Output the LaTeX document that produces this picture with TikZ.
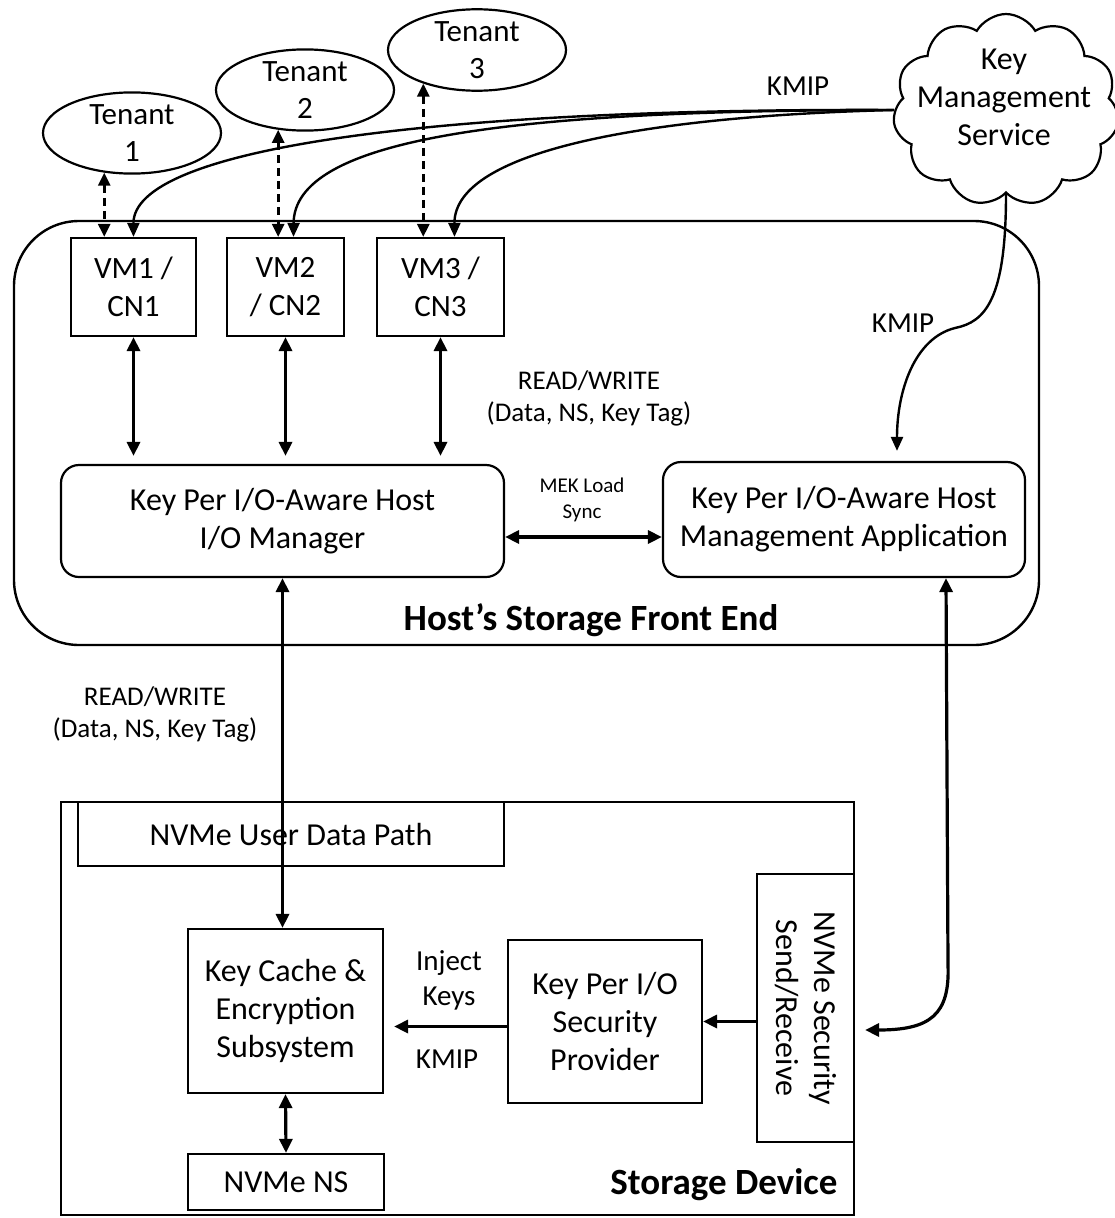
\documentclass[tikz,border=0pt]{standalone}
\usepackage{fontspec}
\setmainfont{Carlito}
\usetikzlibrary{arrows.meta,shapes.geometric,shapes.symbols}

\begin{document}
\begin{tikzpicture}[x=1pt,y=-1pt,
  maintxt/.style={font=\fontsize{32}{38}\selectfont, align=center},
  smalltxt/.style={font=\fontsize{31}{37.5}\selectfont, align=center},
  boxed/.style={draw, line width=2.2pt, inner sep=0pt, maintxt},
  tenant/.style={ellipse, draw, line width=2.2pt, inner sep=0pt, smalltxt,
    minimum width=178, minimum height=80},
  lbl/.style={font=\fontsize{29}{35}\selectfont, align=center, inner sep=0pt},
  rwlbl/.style={font=\fontsize{27}{32}\selectfont, align=center, inner sep=0pt},
  boldlbl/.style={font=\fontsize{37}{42}\selectfont\bfseries, inner sep=0pt},
  flow/.style={line width=3.2pt, {Triangle[length=14pt,width=13pt]}-{Triangle[length=14pt,width=13pt]}},
  oneway/.style={line width=3.2pt, -{Triangle[length=14pt,width=13pt]}},
  tenantlink/.style={line width=2.8pt, dash pattern=on 8pt off 5pt,
    {Triangle[length=13pt,width=12pt]}-{Triangle[length=13pt,width=12pt]}},
  kmip/.style={line width=2.4pt, -{Triangle[length=14pt,width=12pt]}},
]
\useasboundingbox (0,0) rectangle (1114,1218);

% outer containers
\node[draw, line width=2.4pt, rounded corners=65, minimum width=1025, minimum height=424]
  (host) at (526.5,433) {};
\node[boldlbl] (hostlbl) at (591,620) {Host’s Storage Front End};
\node[draw, line width=2.8pt, minimum width=793, minimum height=413]
  (dev) at (457.5,1008.5) {};
\node[boldlbl] (devlbl) at (724,1185) {Storage Device};

% tenants and key service
\node[tenant] (t1) at (132,133) {Tenant\\1};
\node[tenant] (t2) at (305,90) {Tenant\\2};
\node[tenant] (t3) at (477,50) {Tenant\\3};
\node[cloud, draw, line width=2.2pt, cloud puffs=11, cloud puff arc=120,
  minimum width=226, minimum height=192, inner sep=0pt]
  (kms) at (1006,110) {};
\node[maintxt, inner sep=0pt] (kmstxt) at (1004,97) {Key\\Management\\Service};

% compute nodes
\node[boxed, smalltxt, minimum width=125, minimum height=98] (vm1) at (133.5,287) {VM1 /\\CN1};
\node[boxed, smalltxt, minimum width=117, minimum height=98] (vm2) at (285.5,287) {VM2\\/ CN2};
\node[boxed, smalltxt, minimum width=127, minimum height=98] (vm3) at (440.5,287) {VM3 /\\CN3};

% host software
\node[boxed, rounded corners=18, minimum width=443, minimum height=112]
  (iom) at (282.5,521) {Key Per I/O-Aware Host\\I/O Manager};
\node[boxed, rounded corners=18, minimum width=362, minimum height=115]
  (mgmt) at (844,519.5) {Key Per I/O-Aware Host\\Management Application};

% device internals
\node[boxed, line width=2.8pt, minimum width=426, minimum height=64]
  (udp) at (291,834) {NVMe User Data Path};
\node[boxed, minimum width=195, minimum height=164] (kc) at (285.5,1011)
  {Key Cache \&\\Encryption\\Subsystem};
\node[boxed, minimum width=196, minimum height=56] (ns) at (286,1182) {NVMe NS};
\node[boxed, minimum width=194, minimum height=163] (kpio) at (605,1021.5)
  {Key Per I/O\\Security\\Provider};
\node[boxed, rotate=-90, minimum width=268, minimum height=97] (sec) at (805.5,1008)
  {NVMe Security\\Send/Receive};

% tenant links
\draw[tenantlink] (t1.235) -- (t1.235 |- vm1.north);
\draw[tenantlink] (t2.236) -- (t2.236 |- vm2.north);
\draw[tenantlink] (t3.212) -- (t3.212 |- vm3.north);

% KMIP distribution from the key service
\draw[kmip] (kms.west) .. controls (420,108) and (133,150) .. (vm1.north);
\draw[kmip] (kms.west) .. controls (500,110) and (294,140) .. ([xshift=8]vm2.north);
\draw[kmip] (kms.west) .. controls (650,116) and (454,150) .. ([xshift=14]vm3.north);
\node[lbl] (kmiptop) at (798,86) {KMIP};
\draw[kmip, shorten >=10pt] (kms.south) .. controls (1006,300) and (985,322) .. (955,328)
  .. controls (915,338) and (897,390) .. ([xshift=53]mgmt.north);
\node[lbl] (kmipmid) at (903,323) {KMIP};

% data paths inside the host
\draw[flow, shorten >=8pt] (vm1.south) -- (vm1.south |- iom.north);
\draw[flow, shorten >=8pt] (vm2.south) -- (vm2.south |- iom.north);
\draw[flow, shorten >=8pt] (vm3.south) -- (vm3.south |- iom.north);
\node[rwlbl] (rw1) at (589,398) {READ/WRITE\\(Data, NS, Key Tag)};
\draw[flow] ([yshift=-16]iom.east) -- ([yshift=-16]iom.east -| mgmt.west);
\node[font=\fontsize{21}{26}\selectfont, align=center, inner sep=0pt] (mek) at (582,500)
  {MEK Load\\Sync};

% host to device
\draw[flow] (iom.south) -- (iom.south |- kc.north);
\node[rwlbl] (rw2) at (155,714) {READ/WRITE\\(Data, NS, Key Tag)};
\draw[flow, shorten >=10pt] ([xshift=102]mgmt.south) -- (948,965)
  .. controls (950,1015) and (930,1030) .. ([yshift=-22]sec.north);

% device internal flows
\draw[flow] (kc.south) -- (ns.north);
\draw[oneway] (kpio.east -| sec.south) -- (kpio.east);
\draw[oneway, shorten >=10pt] ([yshift=-5]kpio.west) -- ([yshift=-5]kpio.west -| kc.east);
\node[lbl] (inject) at (449,980) {Inject\\Keys};
\node[lbl] (kmipdev) at (447,1059) {KMIP};
\end{tikzpicture}
\end{document}
